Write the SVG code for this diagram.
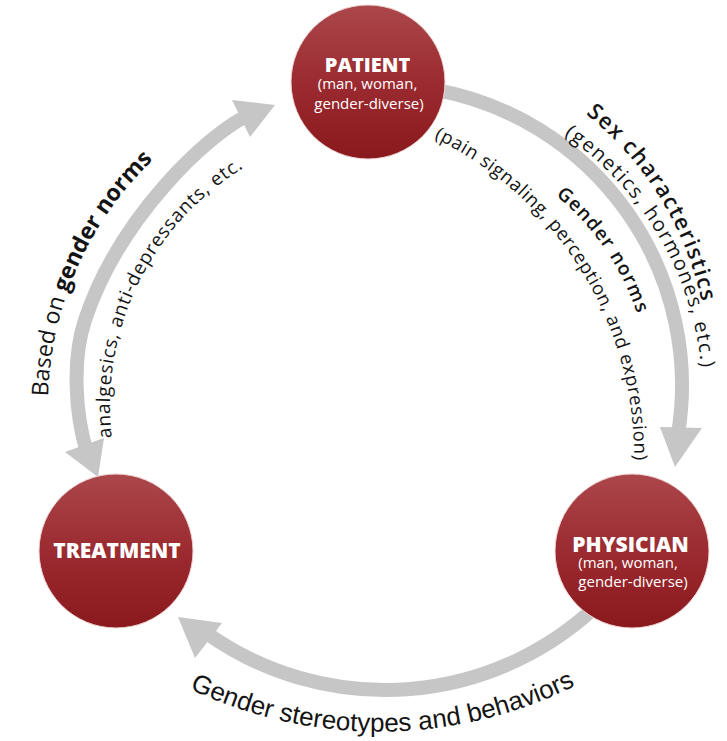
<svg xmlns="http://www.w3.org/2000/svg" width="727" height="741" viewBox="0 0 727 741">
<defs>
<linearGradient id="red" x1="0" y1="0" x2="0" y2="1">
<stop offset="0" stop-color="#ab474b"/>
<stop offset="0.5" stop-color="#9b2b30"/>
<stop offset="1" stop-color="#8a191e"/>
</linearGradient>
<path id="pA" d="M585.8,113.8 A330,330 0 0 1 709,371"/>
<path id="pB" d="M564,135 A318,318 0 0 1 699.6,442"/>
<path id="pC" d="M555.6,195.3 A260,260 0 0 1 649.6,373.5"/>
<path id="pD" d="M434,138 A354,354 0 0 1 626.4,530.3"/>
<path id="pE" d="M48.1,396.5 A341,341 0 0 1 218.5,110.7"/>
<path id="pF" d="M111.8,437.6 A279,279 0 0 1 293.6,143.8"/>
<path id="pG" d="M189.7,688.9 A442,442 0 0 0 632.8,651.7"/>
</defs>
<style>
.band{fill:none;stroke:#c6c6c6;stroke-width:14}
.head{fill:#c6c6c6}
.node circle{fill:url(#red);stroke:#f0d6d6;stroke-width:1}
.title{font-family:"Open Sans","Liberation Sans",sans-serif;font-weight:800;fill:#ffffff;text-anchor:middle}
.sub{font-family:"Open Sans","Liberation Sans",sans-serif;font-size:15px;fill:#ffffff;text-anchor:middle}
.lbl{font-family:"Open Sans","Liberation Sans",sans-serif;fill:#141414}
.lblg{font-family:"Liberation Sans",Arial,sans-serif;fill:#141414}
</style>
<rect width="727" height="741" fill="#ffffff"/>
<g id="connectors">
<path class="band" d="M434.1,89.6 A300,300 0 0 1 677.9,434.5"/>
<polygon class="head" points="675,467 660,427 702,428"/>
<path class="band" d="M246,116.5 C210,133.5 120,215 85,320 C71.7,360 75.4,415.7 87,452"/>
<polygon class="head" points="275,105 232,100 250,137"/>
<polygon class="head" points="98,477 65,452 104,438"/>
<path class="band" d="M602.8,599.8 A308,308 0 0 1 206.1,632.7"/>
<polygon class="head" points="178,617 222,623 195,658"/>
</g>
<g id="patient" class="node">
<circle cx="368" cy="82" r="77"/>
<text class="title" x="367.5" y="72" font-size="20">PATIENT</text>
<text class="sub" x="367.5" y="89">(man, woman,</text>
<text class="sub" x="369" y="109">gender-diverse)</text>
</g>
<g id="treatment" class="node">
<circle cx="116" cy="551" r="77"/>
<text class="title" x="117" y="557.5" font-size="21">TREATMENT</text>
</g>
<g id="physician" class="node">
<circle cx="632" cy="551" r="77"/>
<text class="title" x="630.5" y="552" font-size="21">PHYSICIAN</text>
<text class="sub" x="628" y="568">(man, woman,</text>
<text class="sub" x="633" y="587">gender-diverse)</text>
</g>
<g id="labels">
<text class="lbl" font-size="22" font-weight="600" letter-spacing="1.5"><textPath href="#pA">Sex characteristics</textPath></text>
<text class="lbl" font-size="20" letter-spacing="1.6"><textPath href="#pB">(genetics, hormones, etc.)</textPath></text>
<text class="lbl" font-size="19" font-weight="600" letter-spacing="1.2"><textPath href="#pC">Gender norms</textPath></text>
<text class="lbl" font-size="18.5" letter-spacing="0.6"><textPath href="#pD">(pain signaling, perception, and expression)</textPath></text>
<text class="lbl" font-size="23"><textPath href="#pE">Based on <tspan font-weight="700">gender norms</tspan></textPath></text>
<text class="lbl" font-size="19" letter-spacing="0.8"><textPath href="#pF">analgesics, anti-depressants, etc.</textPath></text>
<text class="lblg" font-size="26"><textPath href="#pG">Gender stereotypes and behaviors</textPath></text>
</g>
</svg>
